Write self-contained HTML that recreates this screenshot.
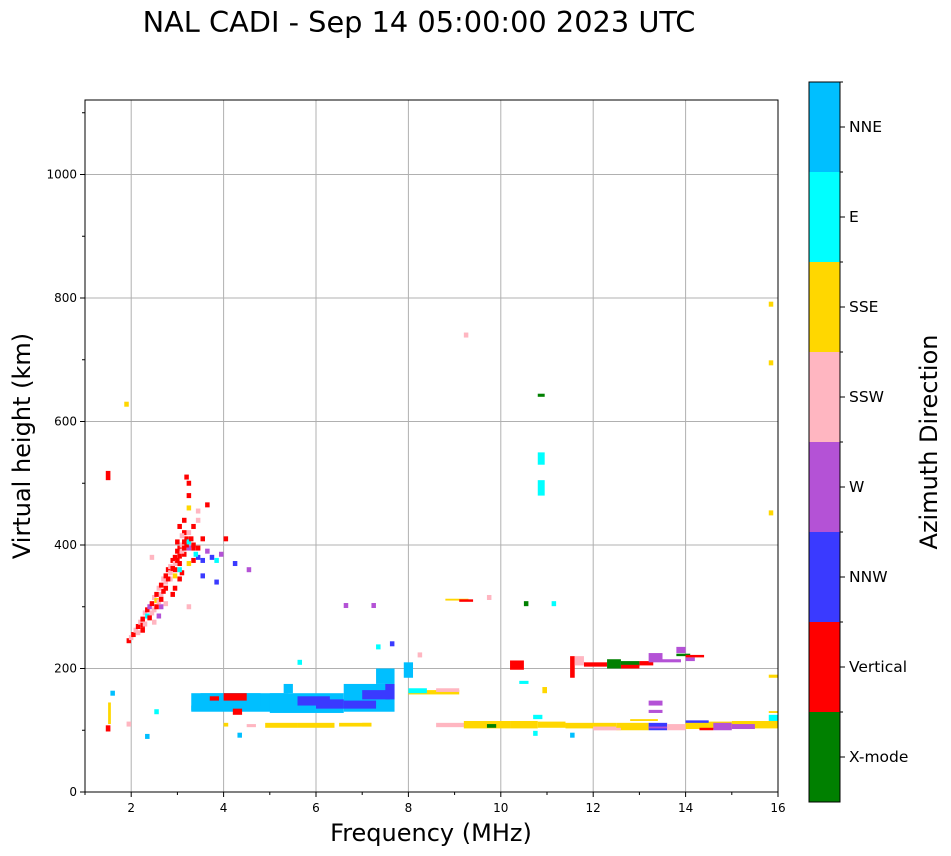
<!DOCTYPE html>
<html><head><meta charset="utf-8"><style>
body{margin:0;background:#fff;}
svg{display:block;font-family:"DejaVu Sans","Liberation Sans",sans-serif;}
</style></head><body>
<svg id="chart" width="951" height="856" viewBox="0 0 951 856" xmlns="http://www.w3.org/2000/svg">
<text x="419" y="32" font-size="28.8" text-anchor="middle">NAL CADI - Sep 14 05:00:00 2023 UTC</text>
<g id="grid"></g>
<g id="marks"></g>
<rect x="85" y="100" width="693" height="692" fill="none" stroke="#000" stroke-width="1"/>
<g id="axes"></g>
<text x="431" y="841" font-size="24" text-anchor="middle">Frequency (MHz)</text>
<text transform="translate(30,446) rotate(-90)" font-size="24" text-anchor="middle">Virtual height (km)</text>
<g id="cbar"></g>
<text transform="translate(937,442) rotate(-90)" font-size="24" text-anchor="middle">Azimuth Direction</text>
</svg>
<script>
const colors=["#008000","#ff0000","#3a3aff","#b452d6","#ffb6c1","#ffd700","#00ffff","#00bfff"];
const labels=["X-mode","Vertical","NNW","W","SSW","SSE","E","NNE"];
const xTicks=[2,4,6,8,10,12,14,16];
const yTicks=[0,200,400,600,800,1000];
// scattered echoes: [freq MHz, height km, direction index]
const points=[[1.9,245,1],[1.95,250,4],[2.0,255,1],[2.05,262,4],[2.1,268,1],[2.15,275,4],[2.2,280,1],[2.25,290,4],[2.3,295,1],[2.35,300,3],[2.4,305,1],[2.45,315,4],[2.5,320,1],[2.55,330,4],[2.6,335,1],[2.65,345,4],[2.7,350,1],[2.75,360,1],[2.8,365,4],[2.85,375,1],[2.9,380,1],[2.95,390,1],[3.0,395,1],[3.05,400,4],[3.1,405,1],[3.15,410,1],[3.2,420,4],[2.2,270,1],[2.3,285,6],[2.4,290,4],[2.5,310,5],[2.6,320,4],[2.7,330,1],[2.8,345,4],[2.9,360,1],[3.0,370,1],[3.1,385,1],[3.2,395,3],[3.3,400,1],[3.0,430,1],[3.1,440,1],[3.2,460,5],[3.2,480,1],[3.2,500,1],[3.15,510,1],[3.4,380,2],[3.5,375,2],[3.6,390,3],[3.7,380,2],[3.8,375,6],[3.9,385,3],[3.5,410,1],[3.6,465,1],[3.4,455,4],[4.0,410,1],[4.2,370,2],[4.5,360,3],[3.8,340,2],[3.5,350,2],[2.7,305,4],[2.6,300,3],[3.0,345,1],[3.05,355,1],[2.9,330,1],[2.85,320,1],
[2.1,258,4],[2.2,262,1],[2.25,272,4],[2.35,282,1],[2.45,295,4],[2.5,300,1],[2.55,308,4],[2.6,312,1],[2.65,325,1],[2.7,340,4],[2.75,345,1],[2.8,355,4],[2.85,362,1],[2.9,370,4],[2.95,375,1],[3.0,382,1],[3.05,390,4],[3.1,395,1],[3.15,400,1],[3.2,405,6],[3.25,410,1],[3.3,395,1],[3.35,385,6],[3.4,395,1],[3.1,420,1],[3.05,415,4],[2.95,405,1],[3.3,430,1],[3.4,440,4],[3.3,375,1],[3.2,370,5],[3.0,360,6],[2.9,350,5],[2.55,285,3],[2.45,275,4],
[1.85,628,5],[2.4,380,4],[3.2,300,4],[9.2,740,4],[6.6,302,3],[7.2,302,3],[9.7,315,4],[11.1,305,6],[10.5,305,0],[1.9,110,4],[2.3,90,7],[4.3,92,7],[10.7,95,6],[11.5,92,7],[15.8,790,5],[15.8,695,5],[15.8,452,5],[5.6,210,6],[7.3,235,6],[7.6,240,2],[8.2,222,4],[2.5,130,6],[1.55,160,7]];
// block echoes: [f0, f1, h0, h1, direction index]
const blocks=[[1.45,1.55,505,520,1],[1.45,1.55,98,108,1],[1.5,1.56,110,145,5],[10.8,10.95,640,645,0],[10.8,10.95,530,550,6],[10.8,10.95,480,505,6],[8.8,9.3,310,313,5],[9.1,9.4,308,312,1],
[3.3,5.4,130,160,7],[3.5,4.8,140,160,7],[4.0,4.5,148,160,1],[3.3,3.9,132,140,7],[5.0,6.6,128,160,7],[5.6,6.3,140,155,2],[6.0,6.8,135,150,2],[6.6,7.7,130,175,7],[6.6,7.3,135,148,2],[7.0,7.6,150,165,2],[7.3,7.7,175,200,7],[7.5,7.7,150,175,2],[5.3,5.5,160,175,7],[4.2,4.4,125,135,1],[3.7,3.9,148,155,1],[7.9,8.1,185,210,7],[8.0,9.1,158,165,5],[8.0,8.4,160,168,6],[8.6,9.1,162,168,4],
[4.0,4.1,106,112,5],[4.5,4.7,105,110,4],[4.9,5.6,104,112,5],[5.6,6.4,104,112,5],[6.5,7.2,106,112,5],[7.0,7.2,106,112,5],
[8.6,9.3,105,112,4],[9.2,10.2,103,115,5],[9.7,9.9,104,110,0],[10.2,10.8,103,115,5],[10.8,11.4,104,114,5],[11.4,12.5,103,112,5],[12.0,12.5,100,106,4],[12.5,13.2,100,112,5],[13.2,13.6,100,112,2],[13.6,14.0,100,110,4],[14.0,15.0,102,114,5],[14.0,14.5,112,116,2],[14.6,15.0,100,112,3],[15.0,16.0,103,115,5],[15.0,15.5,102,110,3],[15.8,16.0,115,125,6],[15.8,16.0,128,131,5],[15.8,16.0,185,190,5],[12.0,12.6,100,104,4],[13.2,13.6,103,106,3],[14.3,14.6,100,104,1],[12.8,13.4,115,118,5],[10.7,10.9,118,125,6],[10.9,11.0,160,170,5],[10.4,10.6,175,180,6],
[10.2,10.5,198,213,1],[11.5,11.6,185,220,1],[11.6,11.8,205,220,4],[11.8,12.3,203,210,1],[12.3,12.6,200,215,0],[12.6,13.0,203,212,0],[12.6,13.0,200,206,1],[13.0,13.3,205,212,1],[13.2,13.5,210,225,3],[13.5,13.9,210,215,3],[13.8,14.0,225,235,3],[13.8,14.1,220,224,0],[14.0,14.2,212,218,3],[14.0,14.4,218,222,1],[13.2,13.5,140,148,3],[13.2,13.5,128,133,3]];
const X=f=>85+(f-1)*46.2, Y=h=>792-h*0.6175;
const NS="http://www.w3.org/2000/svg";
function mk(t,a,p){const e=document.createElementNS(NS,t);for(const k in a)e.setAttribute(k,a[k]);p.appendChild(e);return e;}
const grid=document.getElementById('grid'),axes=document.getElementById('axes'),marks=document.getElementById('marks'),cb=document.getElementById('cbar');
xTicks.forEach(v=>{const x=X(v);
 const g=mk('line',{x1:x,x2:x,y1:100,y2:792,stroke:'#b0b0b0','stroke-width':1},grid);
 
 
 mk('line',{x1:x,x2:x,y1:792,y2:797,stroke:'#000'},axes);
 const t=mk('text',{x:x,y:812,'font-size':12,'text-anchor':'middle'},axes);t.textContent=v;
 
 });
for(let v=1;v<=16;v++){if(v%2)mk('line',{x1:X(v),x2:X(v),y1:792,y2:795,stroke:'#000'},axes);}
yTicks.forEach(v=>{const y=Y(v);
 const g=mk('line',{x1:85,x2:778,y1:y,y2:y,stroke:'#b0b0b0','stroke-width':1},grid);
 
 
 mk('line',{x1:80,x2:85,y1:y,y2:y,stroke:'#000'},axes);
 const t=mk('text',{x:77,y:y+4,'font-size':12,'text-anchor':'end'},axes);t.textContent=v;
 
 });
for(let v=100;v<=1100;v+=200)mk('line',{x1:82,x2:85,y1:Y(v),y2:Y(v),stroke:'#000'},axes);
blocks.forEach(b=>{const r=mk('rect',{x:X(b[0]),y:Y(b[3]),width:X(b[1])-X(b[0]),height:Y(b[2])-Y(b[3]),fill:colors[b[4]]},marks);
 
 });
points.forEach(p=>{const r=mk('rect',{x:X(p[0]),y:Y(p[1])-2.5,width:4.5,height:5,fill:colors[p[2]]},marks);
 
 });
colors.forEach((c,i)=>{const y0=802-(i+1)*90;
 const r=mk('rect',{x:809,y:y0,width:31,height:90,fill:c},cb);
 
 
 mk('line',{x1:840,x2:845,y1:y0+45,y2:y0+45,stroke:'#000'},cb);
 mk('line',{x1:840,x2:843,y1:y0,y2:y0,stroke:'#000'},cb);
 const t=mk('text',{x:849,y:y0+50,'font-size':15.5},cb);t.textContent=labels[i];
 
 });
mk('rect',{x:809,y:82,width:31,height:720,fill:'none',stroke:'#000'},cb);
</script>
</body></html>
